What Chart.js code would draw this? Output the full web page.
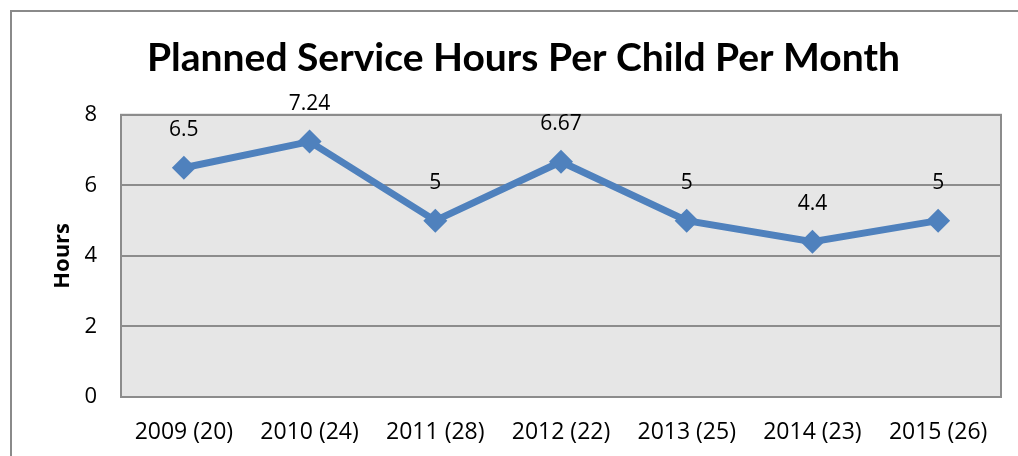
<!DOCTYPE html>
<html>
<head>
<meta charset="utf-8">
<script src="https://cdn.jsdelivr.net/npm/chart.js@4.4.0/dist/chart.umd.min.js"></script>
<style>
    body { margin: 0; background: #fff; }
    #wrap { position: relative; width: 1018px; height: 456px; overflow: hidden; }
    #frame {
        position: absolute; left: 10px; top: 10px; width: 1100px; height: 500px;
        border-left: 2px solid #8a8a8a; border-top: 2px solid #8a8a8a;
        pointer-events: none;
    }
</style>
</head>
<body>
<div id="wrap">
    <canvas id="chart" width="1018" height="456"></canvas>
    <div id="frame"></div>
</div>
<script>
// data
const years = ["2009 (20)", "2010 (24)", "2011 (28)", "2012 (22)", "2013 (25)", "2014 (23)", "2015 (26)"];
const hours = [6.5, 7.24, 5, 6.67, 5, 4.4, 5];
const hourTicks = [0, 2, 4, 6, 8];

const FONT = "'Open Sans', sans-serif";

// grey plot area with border
const plotArea = {
    id: "plotArea",
    beforeDraw(chart) {
        const { ctx, chartArea: a } = chart;
        ctx.save();
        ctx.fillStyle = "#e6e6e6";
        ctx.fillRect(a.left, a.top, a.right - a.left, a.bottom - a.top);
        ctx.restore();
    },
    afterDatasetsDraw(chart) {
        const { ctx, chartArea: a } = chart;
        ctx.save();
        ctx.strokeStyle = "#8c8c8c";
        ctx.lineWidth = 2;
        ctx.strokeRect(a.left, a.top, a.right - a.left, a.bottom - a.top);
        ctx.restore();
    }
};

// value labels above each point
const valueLabels = {
    id: "valueLabels",
    afterDatasetsDraw(chart) {
        const { ctx } = chart;
        const meta = chart.getDatasetMeta(0);
        ctx.save();
        ctx.font = "21px " + FONT;
        ctx.fillStyle = "#000";
        ctx.textAlign = "center";
        ctx.textBaseline = "middle";
        meta.data.forEach((pt, i) => {
            ctx.fillText(String(hours[i]), pt.x, pt.y - 38);
        });
        ctx.restore();
    }
};

new Chart(document.getElementById("chart"), {
    type: "line",
    data: {
        labels: years,
        datasets: [{
            data: hours,
            borderColor: "#4f81bd",
            backgroundColor: "#4f81bd",
            borderWidth: 7,
            tension: 0,
            pointStyle: "rectRot",
            pointRadius: 12,
            pointBorderWidth: 0,
            pointBackgroundColor: "#4f81bd"
        }]
    },
    options: {
        responsive: false,
        animation: false,
        layout: {
            padding: { left: 46, right: 17, top: 0, bottom: 0 }
        },
        plugins: {
            legend: { display: false },
            tooltip: { enabled: false },
            title: {
                display: true,
                text: "Planned Service Hours Per Child Per Month",
                color: "#000",
                font: { family: "Lato, sans-serif", size: 39, weight: "bold", lineHeight: 1.2 },
                padding: { top: 35, bottom: 33 }
            }
        },
        scales: {
            x: {
                offset: true,
                grid: { display: false, drawTicks: false },
                border: { display: false },
                ticks: {
                    color: "#000",
                    padding: 22,
                    maxRotation: 0,
                    font: { family: FONT, size: 23 }
                },
                afterFit(scale) { scale.height = 59; }
            },
            y: {
                min: 0,
                max: 8,
                afterBuildTicks(scale) {
                    scale.ticks = hourTicks.map(v => ({ value: v }));
                },
                grid: { color: "#8c8c8c", lineWidth: 2, drawTicks: false },
                border: { display: false },
                ticks: {
                    color: "#000",
                    padding: 24,
                    font: { family: FONT, size: 22 }
                },
                title: {
                    display: true,
                    text: "Hours",
                    color: "#000",
                    font: { family: FONT, size: 22, weight: "bold" }
                },
                afterFit(scale) { scale.width = 75; }
            }
        }
    },
    plugins: [plotArea, valueLabels]
});
</script>
</body>
</html>
